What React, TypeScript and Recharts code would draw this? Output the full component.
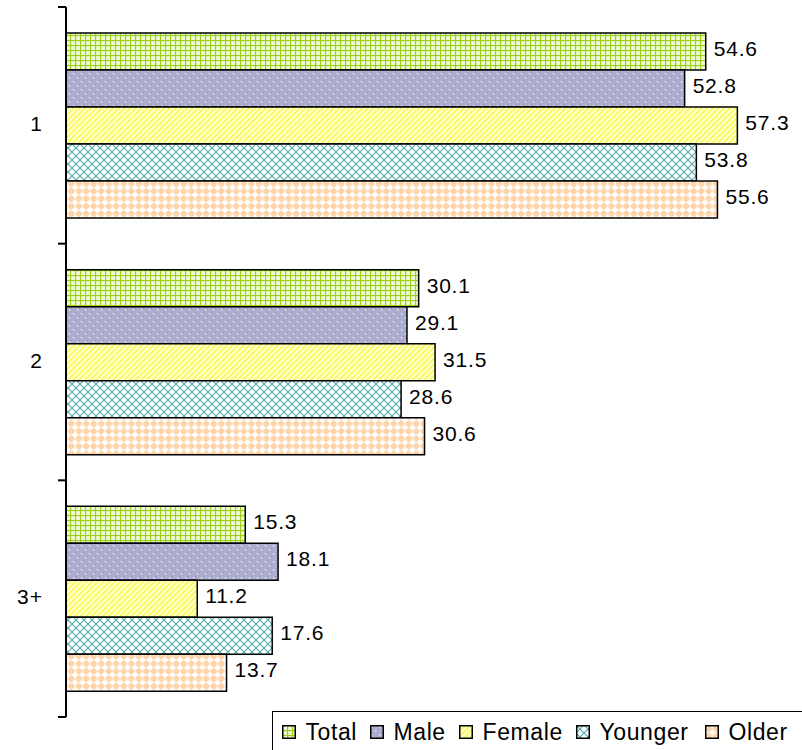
import { BarChart, Bar, XAxis, YAxis, LabelList } from "recharts";

const categories = ["1", "2", "3+"];
const total = [54.6, 30.1, 15.3];
const male = [52.8, 29.1, 18.1];
const female = [57.3, 31.5, 11.2];
const younger = [53.8, 28.6, 17.6];
const older = [55.6, 30.6, 13.7];

const seriesNames = ["Total", "Male", "Female", "Younger", "Older"];
const seriesKeys = ["total", "male", "female", "younger", "older"];
const patternIds = ["pTotal", "pMale", "pFemale", "pYounger", "pOlder"];
// legend item left edges (icon), page pixels
const legendX = [282, 370, 459, 576, 705];

const data = categories.map((name, i) => ({
  name,
  total: total[i],
  male: male[i],
  female: female[i],
  younger: younger[i],
  older: older[i],
}));

const W = 802;
const H = 750;
const M = { top: 7, right: 33, bottom: 33, left: 0 };
const AXIS_W = 66;
const BAND = (H - M.top - M.bottom) / categories.length;
const font = "Arial, 'Liberation Sans', sans-serif";

function Patterns() {
  return (
    <svg width={0} height={0} style={{ position: "absolute" }}>
      <defs>
        <pattern id="pTotal" width={5} height={5} patternUnits="userSpaceOnUse">
          <rect width={5} height={5} fill="#eef8d2" />
          <rect x={0} y={0} width={5} height={1.1} fill="#9ccf14" />
          <rect x={0} y={0} width={1.1} height={5} fill="#9ccf14" />
        </pattern>
        <pattern id="pMale" width={8} height={8} patternUnits="userSpaceOnUse">
          <rect width={8} height={8} fill="#adadcf" />
          <rect x={1} y={1} width={1.5} height={1.5} fill="#e4e4f2" />
          <rect x={5} y={5} width={1.5} height={1.5} fill="#e4e4f2" />
          <rect x={3} y={0} width={1} height={1} fill="#8c8cbc" />
          <rect x={7} y={4} width={1} height={1} fill="#8c8cbc" />
        </pattern>
        <pattern
          id="pFemale"
          width={4}
          height={4}
          patternUnits="userSpaceOnUse"
          patternTransform="rotate(45)"
        >
          <rect width={4} height={4} fill="#ffffc8" />
          <rect x={0} y={0} width={1.1} height={4} fill="#f6f628" />
        </pattern>
        <pattern id="pYounger" width={8} height={8} patternUnits="userSpaceOnUse">
          <rect width={8} height={8} fill="#ffffff" />
          <path d="M0,0 L8,8 M8,0 L0,8" stroke="#52a9a9" strokeWidth={1.1} />
        </pattern>
        <pattern id="pOlder" width={7.5} height={7.5} patternUnits="userSpaceOnUse">
          <rect width={7.5} height={7.5} fill="#ffffff" />
          <circle cx={3.75} cy={3.75} r={2.7} fill="#ffc78f" />
          <rect x={3.1} y={0} width={1.3} height={7.5} fill="#ffd9b3" />
          <rect x={0} y={3.1} width={7.5} height={1.3} fill="#ffd9b3" />
        </pattern>
      </defs>
    </svg>
  );
}

function CategoryTick(props: any) {
  const { y, payload, index } = props;
  const x0 = AXIS_W;
  const top = y - BAND / 2;
  const bottom = y + BAND / 2;
  return (
    <g>
      {index === 0 && (
        <line x1={x0 - 8} x2={x0} y1={top} y2={top} stroke="#000" strokeWidth={2} />
      )}
      <line x1={x0 - 8} x2={x0} y1={bottom} y2={bottom} stroke="#000" strokeWidth={2} />
      <text
        x={43}
        y={y - 2}
        textAnchor="end"
        dominantBaseline="central"
        fontSize={21}
        letterSpacing={1}
        fontFamily={font}
        fill="#000"
      >
        {payload.value}
      </text>
    </g>
  );
}

function LegendBox() {
  return (
    <div
      style={{
        position: "absolute",
        left: 272,
        top: 711,
        width: 540,
        height: 44,
        borderTop: "1.5px solid #000",
        borderLeft: "1.5px solid #000",
        boxSizing: "border-box",
        fontFamily: font,
        fontSize: 23,
        letterSpacing: 0.6,
        color: "#000",
        whiteSpace: "nowrap",
      }}
    >
      {seriesNames.map((n, i) => (
        <div
          key={n}
          style={{
            position: "absolute",
            left: legendX[i] - 272 - 1.5,
            top: 6,
            display: "flex",
            alignItems: "center",
            gap: 10,
            lineHeight: "28px",
          }}
        >
          <svg width={14} height={14}>
            <rect
              x={0.75}
              y={0.75}
              width={12.5}
              height={12.5}
              fill={`url(#${patternIds[i]})`}
              stroke="#000"
              strokeWidth={1.5}
            />
          </svg>
          <span>{n}</span>
        </div>
      ))}
    </div>
  );
}

export default function App() {
  return (
    <div
      style={{
        position: "absolute",
        left: 0,
        top: 0,
        width: W,
        height: H,
        background: "#fff",
        overflow: "hidden",
      }}
    >
      <Patterns />
      <BarChart
        width={W}
        height={H}
        data={data}
        layout="vertical"
        margin={M}
        barCategoryGap="11%"
        barGap={0}
      >
        <XAxis type="number" domain={[0, 60]} hide />
        <YAxis
          type="category"
          dataKey="name"
          width={AXIS_W}
          axisLine={{ stroke: "#000", strokeWidth: 2 }}
          tickLine={false}
          tick={<CategoryTick />}
          interval={0}
        />
        {seriesKeys.map((k, i) => (
          <Bar
            key={k}
            dataKey={k}
            name={seriesNames[i]}
            fill={`url(#${patternIds[i]})`}
            stroke="#000"
            strokeWidth={1.5}
            isAnimationActive={false}
          >
            <LabelList
              dataKey={k}
              position="right"
              offset={8}
              dy={-3}
              fill="#000"
              fontSize={21}
              letterSpacing={0.8}
              fontFamily={font}
              formatter={(v: any) => Number(v).toFixed(1)}
            />
          </Bar>
        ))}
      </BarChart>
      <LegendBox />
    </div>
  );
}
